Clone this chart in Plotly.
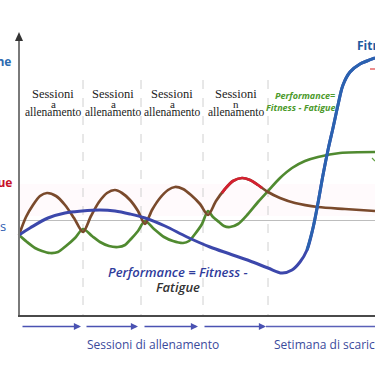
import plotly.graph_objects as go

# ---------------- data (pixel-like units) ----------------
fatigue_x = [19, 26, 33, 40, 47, 56, 65, 74, 83, 91, 99, 107, 115, 122, 130, 138, 145, 152, 160, 168, 175,
             183, 191, 200, 208, 216, 225, 233, 242, 250, 258, 268, 280, 295, 318, 345, 375]
fatigue_y = [235, 217, 205, 196, 193, 196, 205, 218, 232, 216, 202, 193, 190, 193, 200, 211, 224, 210, 198, 190, 187,
             189, 195, 204, 215, 201, 189, 181, 178, 180, 185, 192, 198, 203, 207, 209, 211]
fatigue_peak_x = [222, 225, 233, 242, 250, 258, 262]
fatigue_peak_y = [193, 189, 181, 178, 180, 185, 188]

fitness_x = [19, 27, 35, 42, 50, 58, 66, 75, 83, 92, 100, 109, 118, 125, 131, 138, 145, 154, 164, 173,
             183, 189, 195, 202, 208, 213, 219, 224, 230, 238, 248, 258, 268, 280, 292, 305, 318, 340, 375]
fitness_y = [235, 242, 248, 251, 253, 252, 246, 238, 229, 236, 242, 246, 247, 245, 239, 231, 221, 229, 237, 241,
             243, 241, 234, 224, 211, 217, 222, 226, 227, 224, 214, 202, 191, 178, 168, 161, 157, 153, 152]

perf_x = [19, 30, 48, 65, 82, 100, 115, 130, 145, 165, 187, 210, 230, 250, 268, 282, 292, 300, 307, 313,
          318, 323, 328, 333, 338, 343, 350, 360, 367, 375]
perf_y = [235, 228, 218, 213, 211, 210, 211, 214, 218, 226, 237, 247, 254, 261, 268, 273, 270, 262, 250, 228,
          203, 175, 150, 128, 105, 85, 72, 64, 61, 58]
perf_up_x = [307, 313, 318, 323, 328, 333, 338, 343, 350, 360, 367, 375]
perf_up_y = [250, 228, 203, 175, 150, 128, 105, 85, 72, 64, 61, 58]

session_centers = [53, 113, 172, 236]
session_top = ["Sessioni", "Sessioni", "Sessioni", "Sessioni"]
session_mid = ["a", "a", "a", "n"]
session_bot = ["allenamento", "allenamento", "allenamento", "allenamento"]
divider_x = [83, 141, 203, 268]

arrow_tails = [21, 85, 143, 203]
arrow_heads = [81, 138, 198, 266]

# ---------------- figure ----------------
fig = go.Figure()

BROWN = "#7a4a2c"
RED = "#d42030"
GREEN = "#508a30"
BLUE_L = "#3c47ab"
BLUE_R = "#2a62b0"

fig.add_trace(go.Scatter(x=fitness_x, y=fitness_y, mode="lines",
                         line=dict(color=GREEN, width=2.7, shape="spline", smoothing=0.8),
                         hoverinfo="skip"))
fig.add_trace(go.Scatter(x=fatigue_x, y=fatigue_y, mode="lines",
                         line=dict(color=BROWN, width=2.7, shape="spline", smoothing=0.8),
                         hoverinfo="skip"))
fig.add_trace(go.Scatter(x=fatigue_peak_x, y=fatigue_peak_y, mode="lines",
                         line=dict(color=RED, width=2.7, shape="spline", smoothing=0.8),
                         hoverinfo="skip"))
fig.add_trace(go.Scatter(x=perf_x, y=perf_y, mode="lines",
                         line=dict(color=BLUE_L, width=3, shape="spline", smoothing=1.0),
                         hoverinfo="skip"))
fig.add_trace(go.Scatter(x=perf_up_x, y=perf_up_y, mode="lines",
                         line=dict(color=BLUE_R, width=3, shape="spline", smoothing=1.0),
                         hoverinfo="skip"))

shapes = []
# faint pink glow band
shapes.append(dict(type="rect", x0=19, x1=375, y0=184, y1=216, line=dict(width=0),
                   fillcolor="rgba(255,215,235,0.13)", layer="below"))
# dashed dividers
for dx in divider_x:
    shapes.append(dict(type="line", x0=dx, x1=dx, y0=80, y1=316,
                       line=dict(color="#d0d0d0", width=1, dash="dash"), layer="below"))
# baseline
shapes.append(dict(type="line", x0=19, x1=375, y0=220.5, y1=220.5,
                   line=dict(color="#bdbdbd", width=1.2), layer="below"))
# y axis
shapes.append(dict(type="line", x0=19, x1=19, y0=38, y1=316, line=dict(color="#7a7a7a", width=2)))
shapes.append(dict(type="path", path="M 15 41 L 19 32 L 23 41 Z", fillcolor="#333333",
                   line=dict(color="#333333", width=0)))
# x axis
shapes.append(dict(type="line", x0=18, x1=375, y0=316, y1=316, line=dict(color="#4a4a4a", width=2)))
# last bottom line (no head)
shapes.append(dict(type="line", x0=266, x1=375, y0=326.5, y1=326.5, line=dict(color="#5a60b8", width=1.3)))
# small marks at right edge
shapes.append(dict(type="line", x0=370, x1=375, y0=69, y1=69, line=dict(color="#e04040", width=1.2)))
shapes.append(dict(type="line", x0=372, x1=375, y0=158, y1=161, line=dict(color="#60a040", width=1.2)))

annotations = []
for cx, t, m, b in zip(session_centers, session_top, session_mid, session_bot):
    annotations.append(dict(x=cx, y=93.5, text=t, showarrow=False, xanchor="center", yanchor="middle",
                            font=dict(family="Liberation Serif", size=12.5, color="#222222")))
    annotations.append(dict(x=cx, y=103.5, text=m, showarrow=False, xanchor="center", yanchor="middle",
                            font=dict(family="Liberation Serif", size=11, color="#222222")))
    annotations.append(dict(x=cx, y=112, text=b, showarrow=False, xanchor="center", yanchor="middle",
                            font=dict(family="Liberation Serif", size=11.5, color="#222222")))

for t, h in zip(arrow_tails, arrow_heads):
    annotations.append(dict(x=h, y=326.5, ax=t, ay=326.5, axref="x", ayref="y", xref="x", yref="y",
                            text="", showarrow=True, arrowhead=2, arrowsize=1.1, arrowwidth=1.3,
                            arrowcolor="#4a52b2"))

annotations += [
    dict(x=305, y=95, text="Performance=", showarrow=False, xanchor="center", yanchor="middle",
         font=dict(family="Open Sans", size=9, color="#4c9a2c", style="italic", weight="bold")),
    dict(x=301, y=107.5, text="Fitness - Fatigue", showarrow=False, xanchor="center", yanchor="middle",
         font=dict(family="Open Sans", size=9, color="#4c9a2c", style="italic", weight="bold")),
    dict(x=178, y=272, text="Performance = Fitness -", showarrow=False, xanchor="center", yanchor="middle",
         font=dict(family="Open Sans", size=13, color="#2f3c9c", style="italic", weight=600)),
    dict(x=178, y=287, text="Fatigue", showarrow=False, xanchor="center", yanchor="middle",
         font=dict(family="Open Sans", size=13, color="#333333", style="italic", weight=600)),
    dict(x=85, y=344, text="Sessioni di allenamento", showarrow=False, xanchor="left", yanchor="middle",
         font=dict(family="Open Sans", size=12, color="#3b4a9c")),
    dict(x=272, y=344, text="Setimana di scarico", showarrow=False, xanchor="left", yanchor="middle",
         font=dict(family="Open Sans", size=12, color="#3b4a9c")),
    dict(x=355, y=45, text="<b>Fitness</b>", showarrow=False, xanchor="left", yanchor="middle",
         font=dict(family="Open Sans", size=12, color="#1f5a9e")),
    dict(x=13, y=61, text="<b>Prestazione</b>", showarrow=False, xanchor="right", yanchor="middle",
         font=dict(family="Open Sans", size=12, color="#2c6bb0")),
    dict(x=14, y=182, text="<b>Fatigue</b>", showarrow=False, xanchor="right", yanchor="middle",
         font=dict(family="Open Sans", size=12, color="#c8102a")),
    dict(x=8, y=226, text="Fitness", showarrow=False, xanchor="right", yanchor="middle",
         font=dict(family="Open Sans", size=13, color="#2c5cb0")),
]

fig.update_layout(
    width=375, height=366,
    margin=dict(l=0, r=0, t=0, b=0),
    paper_bgcolor="white", plot_bgcolor="white",
    showlegend=False,
    xaxis=dict(range=[0, 375], visible=False, fixedrange=True),
    yaxis=dict(range=[366, 0], visible=False, fixedrange=True),
    shapes=shapes,
    annotations=annotations,
)

fig.write_html("out.html", config={"displayModeBar": False},
               post_script="document.body.style.margin='0';document.body.style.overflow='hidden';")
